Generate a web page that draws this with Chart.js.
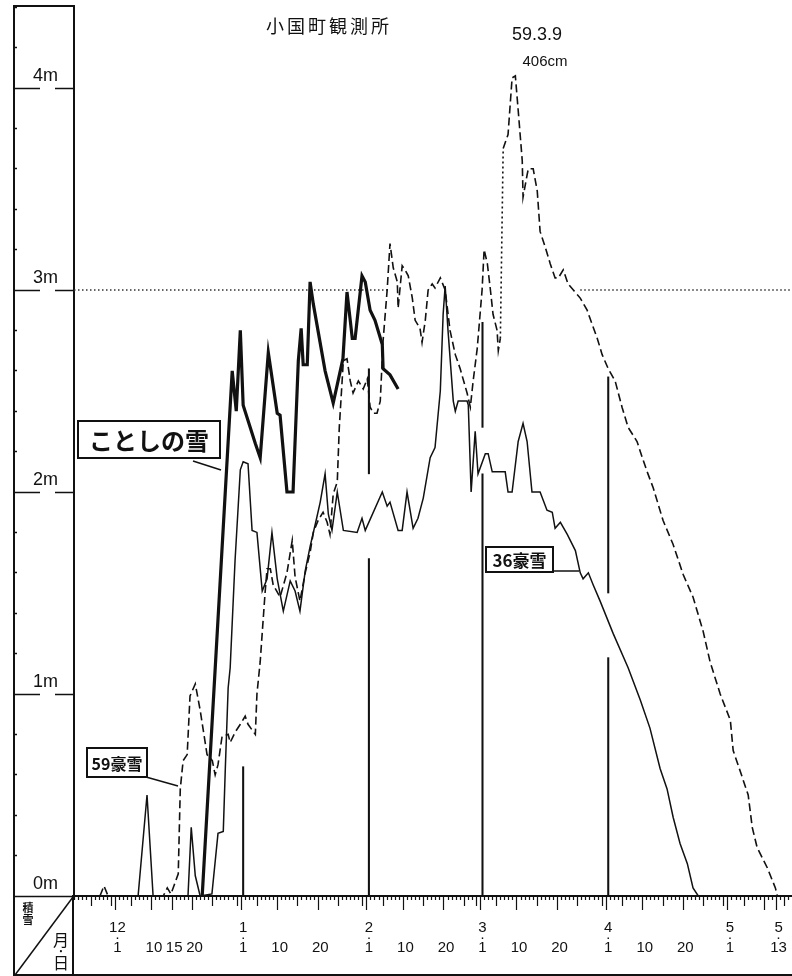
<!DOCTYPE html>
<html><head><meta charset="utf-8">
<script src="https://cdn.jsdelivr.net/npm/chart.js@4.4.1/dist/chart.umd.min.js"></script>
<style>html,body{margin:0;padding:0;background:#fff;}canvas{display:block;}</style>
</head><body>
<canvas id="c" width="792" height="976"></canvas>
<script>
// x = days counted from Dec 1 (Dec 1 = 0, Jan 1 = 31, Feb 1 = 62, Mar 1 = 90, Apr 1 = 121, May 1 = 151)
const monthStarts = [0, 31, 62, 90, 121, 151];
const tickDays   = [0, 9, 14, 19, 31, 40, 50, 62, 71, 81, 90, 99, 109, 121, 130, 140, 151, 163];
const tickMonths = ['12','','','','1','','','2','','','3','','','4','','','5','5'];
const tickDates  = ['1','10','15','20','1','10','20','1','10','20','1','10','20','1','10','20','1','13'];
const depthTicks = [0, 1, 2, 3, 4];

// ことしの雪 (this winter), [day, metres]
const kotoshi = [[20.9,0],[28.3,2.60],[29.3,2.40],[30.3,2.80],[31.0,2.43],[34.0,2.24],[35.2,2.17],[37.2,2.69],[39.4,2.39],[40.1,2.38],[41.8,2.00],[43.3,2.00],[44.6,2.65],[45.3,2.81],[45.8,2.63],[46.8,2.63],[47.5,3.04],[48.3,2.93],[51.2,2.60],[53.2,2.44],[55.6,2.66],[56.6,2.99],[57.4,2.85],[57.9,2.76],[58.6,2.76],[60.3,3.07],[61.1,3.04],[62.3,2.90],[63.5,2.85],[65.3,2.73],[65.5,2.61],[67.2,2.58],[69.2,2.51]];

// 36豪雪
const gosetsu36 = [[5.1,0],[7.3,0.50],[8.8,0],[17.4,0],[18.2,0.34],[19.2,0.10],[20.4,0],[23.3,0.01],[24.8,0.31],[26.1,0.32],[26.6,0.63],[27.3,1.03],[27.8,1.13],[29.0,1.66],[30.3,2.11],[31.0,2.15],[32.2,2.14],[33.2,1.81],[34.4,1.80],[35.7,1.51],[36.9,1.57],[38.1,1.80],[39.4,1.57],[40.9,1.41],[42.6,1.56],[43.8,1.51],[45.0,1.41],[46.3,1.61],[47.5,1.73],[49.0,1.86],[50.0,1.95],[51.2,2.09],[52.0,1.89],[52.9,1.81],[54.2,2.00],[55.7,1.81],[59.1,1.80],[60.3,1.87],[61.1,1.81],[65.3,2.00],[66.5,1.93],[67.2,1.95],[69.2,1.81],[70.2,1.81],[71.4,2.00],[72.9,1.82],[74.1,1.87],[75.4,1.97],[77.1,2.17],[78.3,2.22],[79.6,2.50],[80.3,2.88],[80.8,3.02],[81.5,2.80],[82.8,2.45],[83.3,2.40],[84.0,2.45],[86.2,2.45],[86.5,2.43],[87.2,2.00],[88.2,2.30],[88.9,2.09],[90.7,2.19],[91.4,2.19],[92.4,2.10],[95.6,2.10],[96.3,2.00],[97.3,2.00],[98.8,2.25],[100.0,2.34],[101.0,2.25],[102.2,2.00],[104.2,2.00],[105.9,1.91],[107.2,1.90],[107.9,1.82],[109.2,1.85],[110.9,1.79],[112.9,1.71],[114.1,1.60],[114.8,1.57],[116.1,1.60],[117.3,1.54],[119.0,1.46],[122.2,1.30],[125.9,1.13],[128.9,0.97],[131.3,0.83],[133.8,0.63],[135.5,0.53],[137.0,0.39],[138.7,0.26],[140.5,0.16],[141.9,0.04],[143.2,0],[144.9,0]];

// 59豪雪
const gosetsu59 = [[-4.3,0],[-3.3,0.05],[-2.3,0],[11.3,0],[12.3,0.04],[13.2,0.01],[15.0,0.11],[15.5,0.53],[16.2,0.67],[17.2,0.70],[17.9,0.99],[19.2,1.05],[20.4,0.92],[22.1,0.70],[23.4,0.67],[24.1,0.60],[24.8,0.65],[25.8,0.79],[27.3,0.80],[27.8,0.76],[29.0,0.81],[30.3,0.85],[31.5,0.89],[32.2,0.85],[34.0,0.80],[34.4,1.00],[35.2,1.16],[36.4,1.50],[36.9,1.62],[37.7,1.62],[38.4,1.54],[40.1,1.48],[41.8,1.60],[43.1,1.76],[43.8,1.58],[45.0,1.46],[46.3,1.60],[47.5,1.70],[48.3,1.80],[49.5,1.86],[50.7,1.90],[51.7,1.85],[52.4,1.79],[53.2,1.99],[54.2,2.05],[54.7,2.32],[55.7,2.65],[56.6,2.66],[57.4,2.55],[58.1,2.49],[59.4,2.55],[60.6,2.51],[61.6,2.56],[62.3,2.42],[63.1,2.39],[64.0,2.39],[64.8,2.45],[65.5,2.75],[66.5,3.00],[67.2,3.23],[68.0,3.11],[69.0,3.04],[69.2,2.91],[70.2,3.12],[70.9,3.10],[71.7,3.07],[72.7,2.96],[73.4,2.85],[74.6,2.81],[75.1,2.74],[75.9,2.85],[76.6,3.00],[77.6,3.03],[78.3,3.01],[79.6,3.06],[80.8,3.00],[82.0,2.80],[83.3,2.68],[84.5,2.61],[86.2,2.49],[87.0,2.42],[87.7,2.55],[88.7,2.71],[89.9,3.00],[90.4,3.20],[91.2,3.13],[91.9,3.01],[92.6,2.88],[93.6,2.80],[93.9,2.70],[94.4,2.76],[95.1,3.70],[96.3,3.77],[97.3,4.05],[98.1,4.06],[98.8,3.89],[99.8,3.64],[100.0,3.46],[101.0,3.57],[101.3,3.60],[102.5,3.60],[103.5,3.49],[104.2,3.29],[105.5,3.21],[106.7,3.13],[107.9,3.06],[108.7,3.06],[109.9,3.10],[111.1,3.03],[112.4,3.00],[114.1,2.96],[115.8,2.90],[116.5,2.86],[118.3,2.76],[119.5,2.68],[121.0,2.61],[122.7,2.55],[124.4,2.42],[125.9,2.32],[128.1,2.25],[129.4,2.17],[130.6,2.10],[132.1,2.02],[134.5,1.86],[137.0,1.74],[139.5,1.59],[141.9,1.48],[144.4,1.31],[146.1,1.16],[148.6,1.00],[151.1,0.87],[151.8,0.72],[153.5,0.62],[155.5,0.50],[156.5,0.34],[157.7,0.24],[160.2,0.14],[162.2,0.04],[162.7,0]];
const gap59 = [94.4, 95.1];   // span drawn dotted in the original

// thin vertical marks on the 1st of each month: [day, from, to] (m)
const monthMarks = [[31,0,0.64],[62,0,1.67],[62,2.09,2.61],[90,0,2.09],[90,2.32,2.84],[121,0,1.18],[121,1.50,2.57]];

// 3 m dotted reference line spans (days)
const refLevel = 3;
const refSpans = [[-10.7, 66.7], [114.1, 166.3]];

const X_MIN = -10.7, X_MAX = 166.3, Y_MAX = 4.406;

function dayOfMonth(d){
  if (d < 0) return 31 + d;
  let s = 0; for (const m of monthStarts) if (d >= m) s = m;
  return d - s + 1;
}
function isLastDay(d){ return monthStarts.includes(d + 1); }

const refData = [];
refSpans.forEach((s, i) => {
  if (i > 0) refData.push({x: s[0] - 0.05, y: null});
  refData.push({x: s[0], y: refLevel}, {x: s[1], y: refLevel});
});

const toXY = arr => arr.map(p => ({x: p[0], y: p[1]}));
const INK = '#111';

Chart.defaults.font.family = "'Liberation Sans','Noto Sans CJK JP',sans-serif";
Chart.defaults.color = INK;

function line(c, x1, y1, x2, y2){ c.beginPath(); c.moveTo(x1, y1); c.lineTo(x2, y2); c.stroke(); }
function box(c, x, y, w, h, text, font){
  c.fillStyle = '#fff'; c.fillRect(x, y, w, h);
  c.lineWidth = 2; c.strokeStyle = INK; c.strokeRect(x, y, w, h);
  c.fillStyle = INK; c.font = font; c.textAlign = 'center'; c.textBaseline = 'middle';
  c.fillText(text, x + w / 2, y + h / 2 + 1);
}

const deco = {
  id: 'deco',
  afterDraw(chart){
    const c = chart.ctx;
    c.save();
    c.strokeStyle = INK; c.fillStyle = INK; c.lineCap = 'butt';
    // left label column frame
    c.lineWidth = 2;
    line(c, 14, 5, 14, 976);
    line(c, 13, 6, 75, 6);
    line(c, 73, 895, 73, 976);
    line(c, 13, 975, 792, 975);
    c.lineWidth = 1.5;
    line(c, 73, 897, 15, 975);
    // column captions
    c.textAlign = 'center'; c.textBaseline = 'middle';
    c.font = "bold 11px 'Noto Sans CJK JP'";
    c.fillText('積', 28, 908);
    c.fillText('雪', 28, 920);
    c.font = "16px 'Noto Sans CJK JP'";
    c.fillText('月', 61, 940);
    c.fillText('·', 61, 951);
    c.fillText('日', 61, 963);
    // title
    c.font = "18px 'Noto Sans CJK JP'";
    c.textAlign = 'left';
    const title = '小国町観測所';
    for (let i = 0; i < title.length; i++) c.fillText(title[i], 266 + i * 21, 26);
    // peak note
    c.textAlign = 'center';
    c.font = "18px 'Liberation Sans'";
    c.fillText('59.3.9', 537, 35);
    c.font = "15px 'Liberation Sans'";
    c.fillText('406cm', 545, 62);
    // label boxes and pointers
    box(c, 78, 421, 142, 37, 'ことしの雪', "bold 24px 'Noto Sans CJK JP'");
    c.lineWidth = 1.5; line(c, 193, 461, 221, 470);
    box(c, 87, 748, 60, 29, '59豪雪', "bold 16px 'Noto Sans CJK JP'");
    c.lineWidth = 1.5; line(c, 146, 777, 178, 786);
    box(c, 486, 547, 67, 25, '36豪雪', "bold 17px 'Noto Sans CJK JP'");
    c.lineWidth = 1.5; line(c, 553, 571, 579, 571);
    c.restore();
  }
};

new Chart(document.getElementById('c'), {
  type: 'line',
  data: {
    datasets: [
      { label: 'ことしの雪', data: toXY(kotoshi), borderColor: INK, borderWidth: 3.2,
        pointRadius: 0, tension: 0, order: 0 },
      { label: '59豪雪', data: toXY(gosetsu59), borderColor: INK, borderWidth: 1.6,
        borderDash: [8, 4], pointRadius: 0, tension: 0, order: 1,
        segment: { borderDash: ctx => (ctx.p0.parsed.x === gap59[0] && ctx.p1.parsed.x === gap59[1]) ? [2, 3] : undefined } },
      { label: '36豪雪', data: toXY(gosetsu36), borderColor: INK, borderWidth: 1.5,
        pointRadius: 0, tension: 0, order: 2 },
      { type: 'bar', label: 'month marks', data: monthMarks.map(m => ({x: m[0], y: [m[1], m[2]]})),
        backgroundColor: INK, borderWidth: 0, barThickness: 1.4, grouped: false, order: 3 },
      { label: '3m', data: refData, borderColor: '#333', borderWidth: 1.3, borderDash: [1.5, 2.5],
        pointRadius: 0, spanGaps: false, order: 4 }
    ]
  },
  options: {
    responsive: false, animation: false,
    layout: { padding: { left: 14, top: 6, right: 0, bottom: 0 } },
    plugins: { legend: { display: false }, tooltip: { enabled: false }, title: { display: false } },
    scales: {
      x: {
        type: 'linear', min: X_MIN, max: X_MAX, offset: false,
        afterBuildTicks: s => {
          const t = [];
          for (let d = -10; d <= 166; d++) t.push({ value: d });
          s.ticks = t;
        },
        afterFit: s => { s.height = 80; s.paddingLeft = 0; s.paddingRight = 0; },
        border: { display: true, color: INK, width: 2 },
        grid: {
          drawOnChartArea: false, drawTicks: true, tickLength: 14, tickColor: INK, tickWidth: 1.2,
          tickBorderDash: ctx => {
            const v = ctx.tick ? ctx.tick.value : 0;
            if (tickDays.includes(v)) return [];
            const dm = dayOfMonth(v);
            if (dm === 1 || dm === 10 || dm === 20) return [];
            if (dm === 5 || dm === 15 || dm === 25 || isLastDay(v)) return [9, 40];
            return [3, 40];
          }
        },
        ticks: {
          autoSkip: false, maxRotation: 0, minRotation: 0, padding: 13, color: INK,
          font: { size: 15, lineHeight: '10px' },
          callback: v => {
            const i = tickDays.indexOf(v);
            if (i < 0) return '';
            return tickMonths[i] ? [tickMonths[i], '·', tickDates[i]] : ['', '', tickDates[i]];
          }
        }
      },
      y: {
        type: 'linear', min: 0, max: Y_MAX,
        afterBuildTicks: s => {
          const t = [];
          for (let i = 0; i <= 44; i++) t.push({ value: i / 10 });
          s.ticks = t;
        },
        afterFit: s => { s.width = 60; s.paddingTop = 0; s.paddingBottom = 0; },
        border: { display: true, color: INK, width: 2 },
        grid: {
          drawOnChartArea: false, drawTicks: true, tickLength: 60, tickColor: INK, tickWidth: 1.5,
          tickBorderDash: ctx => {
            const v = ctx.tick ? Math.round(ctx.tick.value * 10) : 0;
            if (v === 0) return [];
            if (v % 10 === 0) return [26, 15, 19, 40];
            if (v % 5 === 0) return [7, 60];
            return [3, 60];
          }
        },
        ticks: {
          padding: -44, labelOffset: -12, crossAlign: 'near', color: INK,
          font: { size: 18 },
          callback: v => {
            const r = Math.round(v * 10);
            return (r % 10 === 0 && depthTicks.includes(r / 10)) ? (r / 10) + 'm' : '';
          }
        }
      }
    }
  },
  plugins: [deco]
});
</script>
</body></html>
